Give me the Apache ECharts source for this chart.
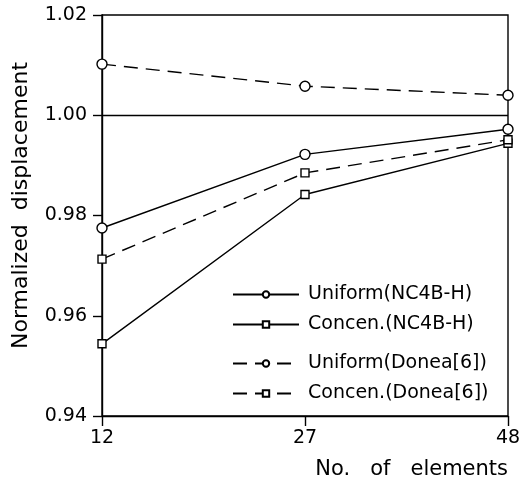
<!DOCTYPE html>
<html>
<head>
<meta charset="utf-8">
<script src="https://cdn.jsdelivr.net/npm/echarts@6/dist/echarts.min.js"></script>
<style>
  html, body { margin: 0; padding: 0; background: #fff; }
  #chart { width: 526px; height: 487px; }
</style>
</head>
<body>
<div id="chart"></div>
<script>
// Mesh sizes (number of elements)
const elements = ['12', '27', '48'];

// Normalized displacement for each load case / element formulation
const uniformNC4BH = [0.9775, 0.9922, 0.9972];
const concenNC4BH  = [0.9544, 0.9842, 0.9944];
const uniformDonea = [1.0102, 1.0058, 1.0040];
const concenDonea  = [0.9713, 0.9885, 0.9951];

const yTicks = { min: 0.94, max: 1.02, interval: 0.02 };

const FONT = 'DejaVu Sans';
const dash = [14, 8];

function makeSeries(name, data, symbol, dashed, size) {
  return {
    name: name,
    type: 'line',
    data: data,
    symbol: symbol,
    symbolSize: size,
    showSymbol: true,
    lineStyle: { color: '#000', width: 1.4, type: dashed ? dash : 'solid' },
    itemStyle: { color: '#fff', borderColor: '#000', borderWidth: 1.4 },
    emphasis: { disabled: true },
    z: 3
  };
}

const series = [
  makeSeries('Uniform(NC4B-H)', uniformNC4BH, 'circle', false, 10),
  makeSeries('Concen.(NC4B-H)', concenNC4BH, 'rect', false, 8),
  makeSeries('Uniform(Donea[6])', uniformDonea, 'circle', true, 10),
  makeSeries('Concen.(Donea[6])', concenDonea, 'rect', true, 8)
];

// reference line at unity
series[0].markLine = {
  silent: true,
  symbol: 'none',
  label: { show: false },
  lineStyle: { color: '#000', width: 1.4, type: 'solid' },
  data: [{ yAxis: 1.0 }]
};

const legendText = { color: '#000', fontFamily: FONT, fontSize: 19, padding: [0, 0, 0, 4] };

const chart = echarts.init(document.getElementById('chart'), null, { renderer: 'canvas' });
chart.setOption({
  animation: false,
  backgroundColor: '#fff',
  grid: {
    left: 102, right: 18, top: 15, bottom: 71,
    show: true, borderColor: '#000', borderWidth: 1.4, backgroundColor: 'transparent'
  },
  legend: [
    {
      data: ['Uniform(NC4B-H)', 'Concen.(NC4B-H)'],
      orient: 'vertical', left: 227, top: 280,
      itemWidth: 66, itemHeight: 8, itemGap: 11,
      textStyle: legendText
    },
    {
      data: ['Uniform(Donea[6])', 'Concen.(Donea[6])'],
      orient: 'vertical', left: 227, top: 349,
      itemWidth: 66, itemHeight: 8, itemGap: 11,
      textStyle: legendText
    }
  ],
  xAxis: {
    type: 'category',
    data: elements,
    boundaryGap: false,
    name: 'No.   of   elements',
    nameLocation: 'end',
    nameGap: 0,
    nameTextStyle: {
      color: '#000', fontFamily: FONT, fontSize: 21,
      align: 'right', verticalAlign: 'top', padding: [43, 0, 0, 0]
    },
    axisLine: { lineStyle: { color: '#000', width: 1.4 } },
    axisTick: { alignWithLabel: true, length: 10, lineStyle: { color: '#000', width: 1.4 } },
    axisLabel: { color: '#000', fontFamily: FONT, fontSize: 19, margin: 13 },
    splitLine: { show: false }
  },
  yAxis: {
    type: 'value',
    min: yTicks.min, max: yTicks.max, interval: yTicks.interval,
    name: 'Normalized  displacement',
    nameLocation: 'middle',
    nameGap: 70,
    nameTextStyle: { color: '#000', fontFamily: FONT, fontSize: 22, padding: [0, 0, 0, 20] },
    axisLine: { show: true, lineStyle: { color: '#000', width: 1.4 } },
    axisTick: { show: true, length: 9, lineStyle: { color: '#000', width: 1.4 } },
    axisLabel: {
      color: '#000', fontFamily: FONT, fontSize: 19, margin: 15,
      formatter: v => v.toFixed(2)
    },
    splitLine: { show: false }
  },
  series: series
});
</script>
</body>
</html>
